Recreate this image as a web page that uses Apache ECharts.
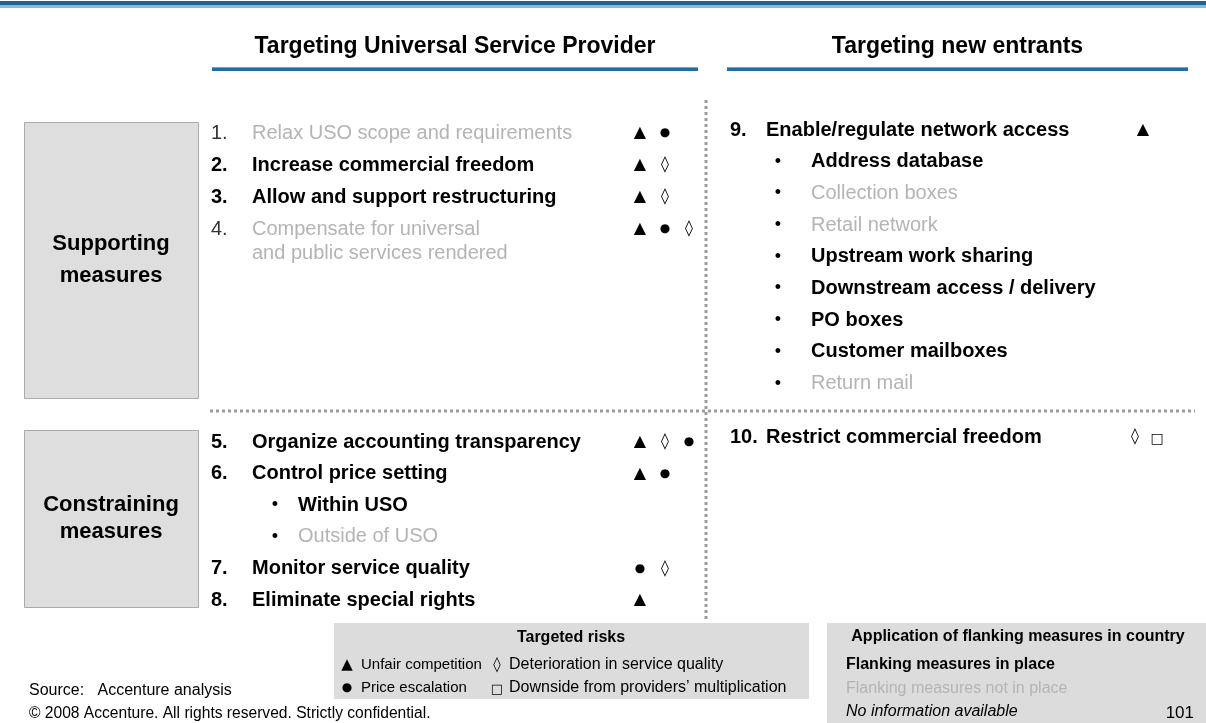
<!DOCTYPE html>
<html>
<head>
<meta charset="utf-8">
<script src="https://cdn.jsdelivr.net/npm/echarts@6/dist/echarts.min.js"></script>
<style>
html,body{margin:0;padding:0;background:#fff;}
#chart{width:1206px;height:723px;}
</style>
</head>
<body>
<div id="chart"></div>
<script>
// ---------- DATA ----------
const columnHeaders = ['Targeting Universal Service Provider', 'Targeting new entrants'];
const rowHeaders = [['Supporting', 'measures'], ['Constraining', 'measures']];

// kind: 'num' numbered measure, 'bullet' sub-item; on: flanking measure in place (bold) or not (grey)
const uspSupporting = [
  { kind: 'num', label: '1.', text: 'Relax USO scope and requirements', on: false, risks: ['tri', 'dot'] },
  { kind: 'num', label: '2.', text: 'Increase commercial freedom', on: true, risks: ['tri', 'dia'] },
  { kind: 'num', label: '3.', text: 'Allow and support restructuring', on: true, risks: ['tri', 'dia'] },
  { kind: 'num', label: '4.', text: 'Compensate for universal\nand public services rendered', on: false, risks: ['tri', 'dot', 'dia'] }
];
const uspConstraining = [
  { kind: 'num', label: '5.', text: 'Organize accounting transparency', on: true, risks: ['tri', 'dia', 'dot'] },
  { kind: 'num', label: '6.', text: 'Control price setting', on: true, risks: ['tri', 'dot'] },
  { kind: 'bullet', label: '•', text: 'Within USO', on: true, risks: [] },
  { kind: 'bullet', label: '•', text: 'Outside of USO', on: false, risks: [] },
  { kind: 'num', label: '7.', text: 'Monitor service quality', on: true, risks: ['dot', 'dia'] },
  { kind: 'num', label: '8.', text: 'Eliminate special rights', on: true, risks: ['tri'] }
];
const entrantsSupporting = [
  { kind: 'num', label: '9.', text: 'Enable/regulate network access', on: true, risks: ['tri'] },
  { kind: 'bullet', label: '•', text: 'Address database', on: true, risks: [] },
  { kind: 'bullet', label: '•', text: 'Collection boxes', on: false, risks: [] },
  { kind: 'bullet', label: '•', text: 'Retail network', on: false, risks: [] },
  { kind: 'bullet', label: '•', text: 'Upstream work sharing', on: true, risks: [] },
  { kind: 'bullet', label: '•', text: 'Downstream access / delivery', on: true, risks: [] },
  { kind: 'bullet', label: '•', text: 'PO boxes', on: true, risks: [] },
  { kind: 'bullet', label: '•', text: 'Customer mailboxes', on: true, risks: [] },
  { kind: 'bullet', label: '•', text: 'Return mail', on: false, risks: [] }
];
const entrantsConstraining = [
  { kind: 'num', label: '10.', text: 'Restrict commercial freedom', on: true, risks: ['dia', 'sq'] }
];

const riskSymbols = { tri: '▲', dot: '●', dia: '◊', sq: '□' };
const riskLegendTitle = 'Targeted risks';
const riskLegend = [
  ['tri', 'Unfair competition'], ['dia', 'Deterioration in service quality'],
  ['dot', 'Price escalation'], ['sq', 'Downside from providers’ multiplication']
];
const flankTitle = 'Application of flanking measures in country';
const flankLegend = [
  { text: 'Flanking measures in place', style: 'on' },
  { text: 'Flanking measures not in place', style: 'off' },
  { text: 'No information available', style: 'na' }
];
const sourceText = 'Source:   Accenture analysis';
const copyrightText = '© 2008 Accenture. All rights reserved. Strictly confidential.';
const pageNumber = '101';

// ---------- STYLE / LAYOUT ----------
const FONT = "'Liberation Sans', Arial, Helvetica, sans-serif";
const SYMFONT = "'DejaVu Sans', sans-serif";
const GREY = '#b4b4b4';
const symSize = { tri: 16, dot: 12, dia: 16, sq: 14 };
const symDy = { tri: 0, dot: 0, dia: 0, sq: 2 };

const blocks = [
  { items: uspSupporting, numX: 211, textX: 252, bulletX: 275, bulletTextX: 298, symX: [640, 665, 689], y0: 133, step: 32 },
  { items: uspConstraining, numX: 211, textX: 252, bulletX: 275, bulletTextX: 298, symX: [640, 665, 689], y0: 442, step: 31.6 },
  { items: entrantsSupporting, numX: 730, textX: 766, bulletX: 778, bulletTextX: 811, symX: [1143, 1165], y0: 130, step: 31.7 },
  { items: entrantsConstraining, numX: 730, textX: 766, bulletX: 778, bulletTextX: 811, symX: [1135, 1157], y0: 437, step: 31.7 }
];

function txt(x, y, s, o) {
  o = o || {};
  return {
    type: 'text', x: x, y: y, silent: true,
    style: {
      text: s, fill: o.fill || '#000', fontSize: o.size || 20,
      fontWeight: o.weight || 'normal', fontStyle: o.style || 'normal',
      fontFamily: o.family || FONT,
      align: o.align || 'left', verticalAlign: o.va || 'middle'
    }
  };
}
function sym(x, y, key, size) {
  const s = size || symSize[key];
  return txt(x, y + symDy[key], riskSymbols[key], { size: s, family: SYMFONT, align: 'center' });
}

const els = [];
// top bar
els.push({ type: 'rect', shape: { x: 0, y: 1, width: 1206, height: 4 }, style: { fill: '#1d6497' } });
els.push({ type: 'rect', shape: { x: 0, y: 5, width: 1206, height: 3 }, style: { fill: '#8fb9da' } });

// column headers + underlines
const headerSpans = [[212, 698], [727, 1188]];
columnHeaders.forEach((h, i) => {
  const [a, b] = headerSpans[i];
  els.push(txt((a + b) / 2, 47, h, { size: 23, weight: 'bold', align: 'center' }));
  els.push({ type: 'rect', shape: { x: a, y: 67, width: b - a, height: 4 }, style: { fill: '#1f6ea6' } });
  els.push({ type: 'rect', shape: { x: a, y: 67, width: b - a, height: 1 }, style: { fill: '#6fa3cc' } });
});

// row header boxes
const boxSpans = [[122, 398], [430, 607]];
const boxLineGap = [32, 27];
rowHeaders.forEach((lines, i) => {
  const [t, b] = boxSpans[i];
  els.push({ type: 'rect', shape: { x: 24.5, y: t + 0.5, width: 174, height: b - t }, style: { fill: '#dedede', stroke: '#ababab', lineWidth: 1 } });
  const cy = (t + b) / 2;
  lines.forEach((l, k) => {
    els.push(txt(111, cy + (k - (lines.length - 1) / 2) * boxLineGap[i], l, { size: 22, weight: 'bold', align: 'center' }));
  });
});

// dotted separators
const dotStyle = { stroke: '#9c9c9c', lineWidth: 3, lineDash: [3, 3] };
els.push({ type: 'line', shape: { x1: 706, y1: 100, x2: 706, y2: 622 }, style: dotStyle });
els.push({ type: 'line', shape: { x1: 210, y1: 411, x2: 1195, y2: 411 }, style: dotStyle });

// measures
blocks.forEach(bk => {
  let row = 0;
  bk.items.forEach(it => {
    const y = bk.y0 + row * bk.step;
    const weight = it.on ? 'bold' : 'normal';
    const fill = it.on ? '#000' : GREY;
    if (it.kind === 'num') {
      els.push(txt(bk.numX, y, it.label, { weight: weight, fill: it.on ? '#000' : '#333' }));
      it.text.split('\n').forEach((line, k) => {
        els.push(txt(bk.textX, y + k * 24, line, { weight: weight, fill: fill }));
      });
    } else {
      els.push(txt(bk.bulletX, y, it.label, { size: 18, fill: '#000', align: 'center' }));
      els.push(txt(bk.bulletTextX, y, it.text, { weight: weight, fill: fill }));
    }
    it.risks.forEach((r, k) => els.push(sym(bk.symX[k], y, r)));
    row += 1;
  });
});

// targeted risks legend box
els.push({ type: 'rect', shape: { x: 334, y: 623, width: 475, height: 76 }, style: { fill: '#dcdcdc' } });
els.push(txt(571, 638, riskLegendTitle, { size: 16, weight: 'bold', align: 'center' }));
const riskCols = [[347, 361, 15], [497, 509, 16]];
riskLegend.forEach((r, i) => {
  const c = riskCols[i % 2];
  const y = 665 + Math.floor(i / 2) * 23;
  els.push(sym(c[0], y, r[0], r[0] === 'dot' ? 12 : (r[0] === 'sq' ? 13 : 15)));
  els.push(txt(c[1], y, r[1], { size: c[2] }));
});

// flanking legend box
els.push({ type: 'rect', shape: { x: 827, y: 623, width: 379, height: 100 }, style: { fill: '#dcdcdc' } });
els.push(txt(1018, 637, flankTitle, { size: 16, weight: 'bold', align: 'center' }));
flankLegend.forEach((f, i) => {
  const o = { size: 16 };
  if (f.style === 'on') o.weight = 'bold';
  if (f.style === 'off') o.fill = GREY;
  if (f.style === 'na') o.style = 'italic';
  els.push(txt(846, 665 + i * 23.5, f.text, o));
});
els.push(txt(1194, 713, pageNumber, { size: 17, align: 'right' }));

// source & copyright
els.push(txt(29, 691, sourceText, { size: 16 }));
els.push(txt(29, 714, copyrightText, { size: 15.6 }));

const chart = echarts.init(document.getElementById('chart'), null, { renderer: 'canvas' });
chart.setOption({
  backgroundColor: '#ffffff',
  animation: false,
  graphic: { elements: els }
});
</script>
</body>
</html>
